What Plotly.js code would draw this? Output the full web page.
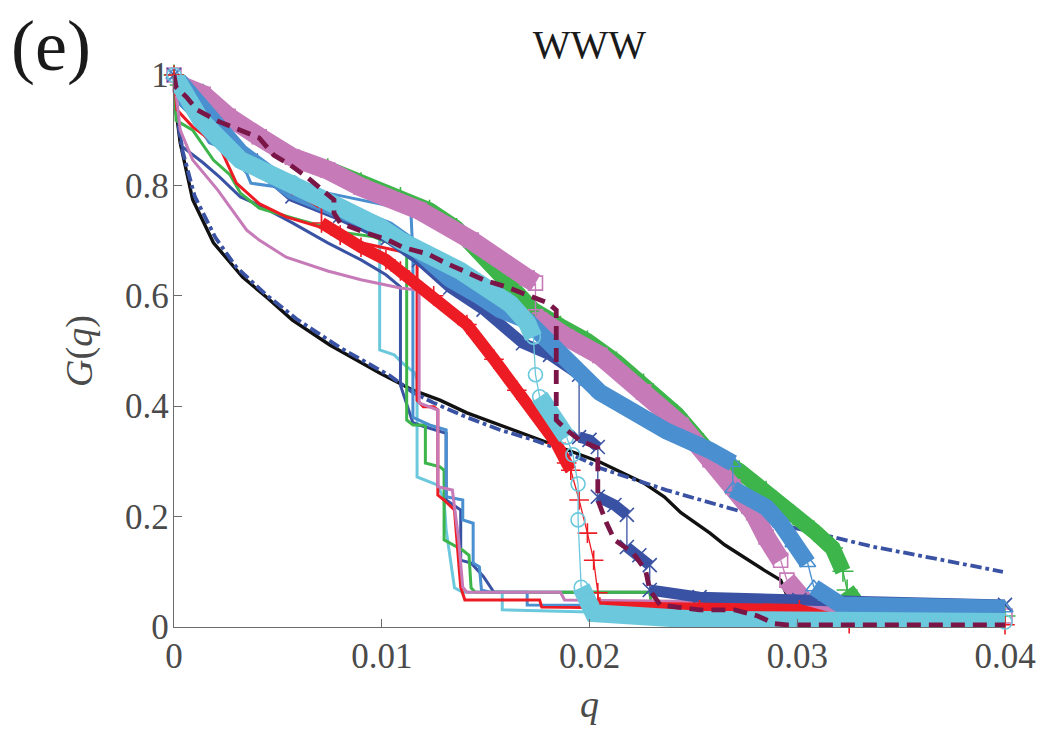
<!DOCTYPE html>
<html>
<head>
<meta charset="utf-8">
<script src="https://cdn.plot.ly/plotly-3.0.1.min.js"></script>
<style>html,body{margin:0;padding:0;background:#fff;}#chart{width:1045px;height:734px;}</style>
</head>
<body>
<div id="chart"></div>
<script>
// ---------- axis ticks ----------
const xTicks = [0, 0.01, 0.02, 0.03, 0.04];
const yTicks = [0, 0.2, 0.4, 0.6, 0.8, 1];

// ---------- solid / dashed curves ----------
const qBlack = [0, 0.00005, 0.0003, 0.0009, 0.0019, 0.0022, 0.0033, 0.0045, 0.0057, 0.0075, 0.0099, 0.0115, 0.0128, 0.0141, 0.0157, 0.0173, 0.0189, 0.0205, 0.0226, 0.0236, 0.0244, 0.0258, 0.0265, 0.0274, 0.0284, 0.0292, 0.0295, 0.0297, 0.0320, 0.0400];
const gBlack = [1.0, 0.95, 0.877, 0.774, 0.696, 0.683, 0.634, 0.596, 0.556, 0.511, 0.460, 0.429, 0.411, 0.388, 0.366, 0.344, 0.321, 0.299, 0.261, 0.236, 0.207, 0.170, 0.149, 0.127, 0.103, 0.085, 0.058, 0.045, 0.042, 0.040];

const qDashDot = [0, 0.0001, 0.0004, 0.001, 0.002, 0.003, 0.0044, 0.0059, 0.008, 0.0104, 0.0115, 0.0125, 0.0141, 0.0157, 0.0173, 0.0186, 0.0197, 0.0205, 0.0237, 0.0276, 0.0297, 0.0317, 0.0337, 0.0358, 0.0378, 0.0399];
const gDashDot = [0.99, 0.937, 0.864, 0.78, 0.705, 0.652, 0.603, 0.558, 0.506, 0.455, 0.425, 0.406, 0.380, 0.357, 0.339, 0.321, 0.303, 0.288, 0.248, 0.206, 0.181, 0.163, 0.145, 0.130, 0.116, 0.100];

const qBlueSolid = [0, 0.0001, 0.0004, 0.0014, 0.0022, 0.0032, 0.0041, 0.0057, 0.0074, 0.009, 0.0102, 0.0109, 0.0109, 0.0115, 0.0118, 0.0131, 0.0131, 0.0138, 0.0138, 0.0143, 0.0149, 0.0154, 0.0229, 0.0301, 0.04];
const gBlueSolid = [1.0, 0.942, 0.870, 0.841, 0.815, 0.779, 0.764, 0.732, 0.696, 0.665, 0.638, 0.616, 0.438, 0.370, 0.366, 0.351, 0.230, 0.212, 0.121, 0.116, 0.091, 0.063, 0.063, 0.053, 0.043];

const qGreenSolid = [0, 0.0001, 0.0009, 0.0019, 0.0027, 0.0032, 0.0041, 0.0057, 0.0083, 0.0096, 0.0106, 0.0112, 0.0112, 0.0115, 0.0121, 0.0121, 0.0128, 0.0130, 0.0130, 0.0139, 0.0142, 0.0143, 0.0145, 0.0229, 0.0230, 0.04];
const gGreenSolid = [1.0, 0.918, 0.900, 0.846, 0.819, 0.786, 0.759, 0.741, 0.714, 0.707, 0.692, 0.683, 0.375, 0.366, 0.366, 0.297, 0.290, 0.284, 0.158, 0.139, 0.130, 0.071, 0.063, 0.063, 0.036, 0.027];

const qRedSolid = [0, 0.00014, 0.0009, 0.0022, 0.003, 0.0041, 0.0054, 0.007, 0.009, 0.0105, 0.0117, 0.0117, 0.0120, 0.0125, 0.0127, 0.0127, 0.0130, 0.0135, 0.0138, 0.0140, 0.0176, 0.0177, 0.04];
const gRedSolid = [1.0, 0.937, 0.906, 0.870, 0.804, 0.767, 0.743, 0.725, 0.696, 0.683, 0.674, 0.411, 0.399, 0.399, 0.393, 0.239, 0.230, 0.212, 0.072, 0.049, 0.049, 0.036, 0.027];

const qLightSolid = [0, 0.0003, 0.0009, 0.0017, 0.0026, 0.0035, 0.0037, 0.005, 0.0074, 0.009, 0.0114, 0.0115, 0.0115, 0.0123, 0.0131, 0.0131, 0.0139, 0.0139, 0.0144, 0.0144, 0.0147, 0.0148, 0.0152, 0.0170, 0.0170, 0.04];
const gLightSolid = [1.0, 0.946, 0.924, 0.877, 0.864, 0.822, 0.804, 0.797, 0.786, 0.774, 0.755, 0.674, 0.380, 0.366, 0.357, 0.236, 0.230, 0.194, 0.188, 0.116, 0.109, 0.067, 0.063, 0.063, 0.040, 0.036];

const qPinkSolid = [0, 0.0002, 0.0003, 0.0009, 0.0021, 0.0035, 0.0041, 0.0054, 0.0074, 0.009, 0.0109, 0.0118, 0.0118, 0.0127, 0.0127, 0.0134, 0.0137, 0.0139, 0.0141, 0.0186, 0.0188, 0.04];
const gPinkSolid = [1.0, 0.928, 0.900, 0.846, 0.792, 0.719, 0.701, 0.670, 0.645, 0.629, 0.614, 0.610, 0.406, 0.393, 0.254, 0.248, 0.158, 0.072, 0.063, 0.063, 0.049, 0.040];

const qCyanSolid = [0, 0.0005, 0.0032, 0.0057, 0.008, 0.0099, 0.0099, 0.0106, 0.0110, 0.0116, 0.0117, 0.0117, 0.0127, 0.0130, 0.0131, 0.0133, 0.0135, 0.0139, 0.0158, 0.0158, 0.0200, 0.04];
const gCyanSolid = [1.0, 0.955, 0.846, 0.792, 0.755, 0.708, 0.502, 0.493, 0.478, 0.460, 0.447, 0.272, 0.257, 0.230, 0.176, 0.121, 0.071, 0.063, 0.063, 0.031, 0.027, 0.022];

const qMaroon = [0, 0.0001, 0.0006, 0.0011, 0.0022, 0.0032, 0.0041, 0.0048, 0.0056, 0.0064, 0.007, 0.0077, 0.0077, 0.008, 0.0091, 0.0103, 0.011, 0.0122, 0.0131, 0.0149, 0.016, 0.0171, 0.018, 0.0184, 0.0184, 0.0189, 0.0195, 0.0204, 0.0204, 0.0208, 0.0212, 0.0221, 0.0227, 0.0229, 0.0234, 0.0253, 0.0270, 0.0281, 0.0289, 0.0295, 0.04];
const gMaroon = [1.0, 0.978, 0.960, 0.937, 0.915, 0.900, 0.886, 0.855, 0.837, 0.815, 0.797, 0.774, 0.750, 0.732, 0.716, 0.701, 0.688, 0.676, 0.659, 0.629, 0.616, 0.601, 0.587, 0.574, 0.375, 0.357, 0.339, 0.324, 0.230, 0.190, 0.158, 0.134, 0.103, 0.067, 0.040, 0.031, 0.031, 0.020, 0.006, 0.004, 0.004];

// ---------- marker series ----------
const qGreenPlus = [0, 0.0003, 0.0014, 0.0026, 0.0041, 0.0057, 0.0074, 0.009, 0.0109, 0.0123, 0.0136, 0.0152, 0.0173, 0.0186, 0.0199, 0.0213, 0.0226, 0.0242, 0.0250, 0.0258, 0.0272, 0.0285, 0.0298, 0.0308, 0.0317, 0.0322, 0.0324, 0.0327, 0.0330, 0.04];
const gGreenPlus = [1.0, 0.982, 0.965, 0.925, 0.888, 0.851, 0.830, 0.805, 0.778, 0.755, 0.722, 0.660, 0.574, 0.545, 0.518, 0.480, 0.440, 0.385, 0.350, 0.315, 0.283, 0.246, 0.203, 0.174, 0.143, 0.101, 0.067, 0.049, 0.036, 0.020];

const qPinkSq = [0, 0.0003, 0.0014, 0.0026, 0.0041, 0.0057, 0.0074, 0.009, 0.0118, 0.0143, 0.0170, 0.0174, 0.0174, 0.0176, 0.0189, 0.0205, 0.0226, 0.0244, 0.0258, 0.0269, 0.0279, 0.0285, 0.0292, 0.0295, 0.0301, 0.0305, 0.0317, 0.04];
const gPinkSq = [1.0, 0.982, 0.965, 0.925, 0.888, 0.851, 0.828, 0.797, 0.755, 0.701, 0.632, 0.623, 0.562, 0.556, 0.525, 0.492, 0.426, 0.366, 0.303, 0.254, 0.207, 0.163, 0.121, 0.085, 0.054, 0.040, 0.031, 0.020];

const qLightTri = [0, 0.0013, 0.0032, 0.0057, 0.0080, 0.0103, 0.0118, 0.0133, 0.0147, 0.0157, 0.0170, 0.0186, 0.0199, 0.0205, 0.0221, 0.0237, 0.0258, 0.0269, 0.0269, 0.0285, 0.0292, 0.0298, 0.0305, 0.0308, 0.0314, 0.0321, 0.04];
const gLightTri = [1.0, 0.940, 0.860, 0.790, 0.755, 0.720, 0.680, 0.630, 0.600, 0.575, 0.555, 0.500, 0.445, 0.425, 0.390, 0.355, 0.320, 0.297, 0.250, 0.217, 0.188, 0.152, 0.116, 0.072, 0.055, 0.040, 0.034];

const qBlueX = [0, 0.0013, 0.0037, 0.0057, 0.0080, 0.0103, 0.0118, 0.0133, 0.0149, 0.0168, 0.0181, 0.0195, 0.0195, 0.0200, 0.0204, 0.0204, 0.0212, 0.0218, 0.0218, 0.0224, 0.0229, 0.0229, 0.0253, 0.0301, 0.04];
const gBlueX = [1.0, 0.930, 0.845, 0.780, 0.745, 0.705, 0.665, 0.615, 0.575, 0.514, 0.493, 0.457, 0.344, 0.339, 0.326, 0.236, 0.221, 0.203, 0.145, 0.130, 0.112, 0.067, 0.054, 0.049, 0.040];

const qRedPlus = [0, 0.0005, 0.0013, 0.0032, 0.0057, 0.0071, 0.0071, 0.008, 0.009, 0.0102, 0.0109, 0.0125, 0.0141, 0.0154, 0.0165, 0.0176, 0.0184, 0.0189, 0.0191, 0.0195, 0.0199, 0.0202, 0.0204, 0.0205, 0.0253, 0.0301, 0.0325, 0.04];
const gRedPlus = [1.0, 0.964, 0.918, 0.846, 0.800, 0.768, 0.732, 0.710, 0.688, 0.665, 0.645, 0.600, 0.548, 0.485, 0.429, 0.380, 0.333, 0.297, 0.284, 0.230, 0.170, 0.121, 0.062, 0.036, 0.031, 0.031, 0.006, 0.004];

const qCyanO = [0, 0.0005, 0.0013, 0.0032, 0.0057, 0.008, 0.0099, 0.0109, 0.0138, 0.0162, 0.0170, 0.0173, 0.0174, 0.0176, 0.0181, 0.0184, 0.0189, 0.0192, 0.01945, 0.01945, 0.0196, 0.0199, 0.0202, 0.0253, 0.04];
const gCyanO = [1.0, 0.964, 0.918, 0.846, 0.805, 0.760, 0.725, 0.700, 0.645, 0.585, 0.551, 0.525, 0.457, 0.417, 0.393, 0.370, 0.344, 0.312, 0.259, 0.194, 0.072, 0.049, 0.025, 0.013, 0.009];

// ---------- styling ----------
const C = {
  black: '#111111', dblue: '#3A52A3', green: '#3DB54A', red: '#ED1C24',
  lblue: '#4A8FCF', pink: '#C67BB8', cyan: '#6CC8DC', maroon: '#7A1548'
};
const FONT = '"Times New Roman", Times, "Liberation Serif", "DejaVu Serif", serif';
const M = {l: 174, r: 40, t: 75, b: 107};
const W = 1045, H = 734;
const xRange = [0, 0.04], yRange = [0, 1];
const pxPerQ = (W - M.l - M.r) / (xRange[1] - xRange[0]);
const pxPerG = (H - M.t - M.b) / (yRange[1] - yRange[0]);

const traces = [];
function solid(q, g, color, width, dash) {
  traces.push({x: q, y: g, mode: 'lines', type: 'scatter', hoverinfo: 'skip',
    line: {color: color, width: width, dash: dash || 'solid'}});
}
function markerSeries(q, g, color, symbol, size, band) {
  const bx = [], by = [], tx = [], ty = [];
  let lastB = -1, lastT = -1;
  for (let i = 1; i < q.length; i++) {
    const dx = Math.abs(q[i] - q[i-1]) * pxPerQ;
    const dy = Math.abs(g[i] - g[i-1]) * pxPerG;
    const thin = dy > 2.5 * dx;
    if (thin) {
      if (lastT !== i - 1) { if (tx.length) { tx.push(null); ty.push(null); } tx.push(q[i-1]); ty.push(g[i-1]); }
      tx.push(q[i]); ty.push(g[i]); lastT = i;
    } else {
      if (lastB !== i - 1) { if (bx.length) { bx.push(null); by.push(null); } bx.push(q[i-1]); by.push(g[i-1]); }
      bx.push(q[i]); by.push(g[i]); lastB = i;
    }
  }
  traces.push({x: bx, y: by, mode: 'lines', type: 'scatter', hoverinfo: 'skip', connectgaps: false,
    line: {color: color, width: band}});
  traces.push({x: tx, y: ty, mode: 'lines', type: 'scatter', hoverinfo: 'skip', connectgaps: false,
    line: {color: color, width: 1.3}});
  traces.push({x: q, y: g, mode: 'markers', type: 'scatter', hoverinfo: 'skip', cliponaxis: false,
    marker: {symbol: symbol, size: size, color: color, line: {color: color, width: 1.6}}});
}

solid(qBlack, gBlack, C.black, 3.4);
solid(qDashDot, gDashDot, C.dblue, 3.8, 'dashdot');
solid(qCyanSolid, gCyanSolid, C.cyan, 3);
solid(qBlueSolid, gBlueSolid, C.dblue, 3);
solid(qGreenSolid, gGreenSolid, C.green, 3);
solid(qLightSolid, gLightSolid, C.lblue, 3);
solid(qRedSolid, gRedSolid, C.red, 3);
solid(qPinkSolid, gPinkSolid, C.pink, 3);

markerSeries(qGreenPlus, gGreenPlus, C.green, 'cross-thin-open', 15, 16);
markerSeries(qPinkSq, gPinkSq, C.pink, 'square-open', 14, 19);
markerSeries(qBlueX, gBlueX, C.dblue, 'x-thin-open', 14, 11);
markerSeries(qLightTri, gLightTri, C.lblue, 'triangle-up-open', 14, 17);
markerSeries(qRedPlus, gRedPlus, C.red, 'cross-thin-open', 14, 12);
markerSeries(qCyanO, gCyanO, C.cyan, 'circle-open', 14, 18);
solid(qMaroon, gMaroon, C.maroon, 4.8, '14px,8px');

const axisCommon = {
  showgrid: false, zeroline: false, showline: true, linecolor: '#6b6b6b', linewidth: 1.2,
  ticks: 'inside', ticklen: 8, tickwidth: 1, tickcolor: '#6b6b6b', mirror: false,
  tickfont: {family: FONT, size: 35, color: '#4a4a4a'}, automargin: false
};
const layout = {
  width: W, height: H, margin: M, showlegend: false,
  paper_bgcolor: '#ffffff', plot_bgcolor: '#ffffff',
  font: {family: FONT},
  title: {text: 'WWW', font: {family: FONT, size: 40, color: '#1a1a1a'},
    x: 0.5, xref: 'paper', xanchor: 'center', y: 1 - 44 / H, yref: 'container', yanchor: 'middle'},
  xaxis: Object.assign({}, axisCommon, {range: xRange, tickmode: 'array', tickvals: xTicks,
    ticktext: xTicks.map(String), ticklabelstandoff: -2,
    title: {text: '<i>q</i>', font: {family: FONT, size: 38, color: '#4a4a4a'}, standoff: 15}}),
  yaxis: Object.assign({}, axisCommon, {range: yRange, tickmode: 'array', tickvals: yTicks,
    ticktext: yTicks.map(String), ticklabelstandoff: -3,
    title: {text: '<i>G</i>(<i>q</i>)', font: {family: FONT, size: 38, color: '#4a4a4a'}, standoff: 20}}),
  annotations: [{text: '(e)', xref: 'paper', yref: 'paper', x: -0.198, y: 1.053,
    xanchor: 'left', yanchor: 'middle', showarrow: false,
    font: {family: FONT, size: 72, color: '#1a1a1a'}}]
};
Plotly.newPlot('chart', traces, layout, {staticPlot: true, displayModeBar: false});
</script>
</body>
</html>
